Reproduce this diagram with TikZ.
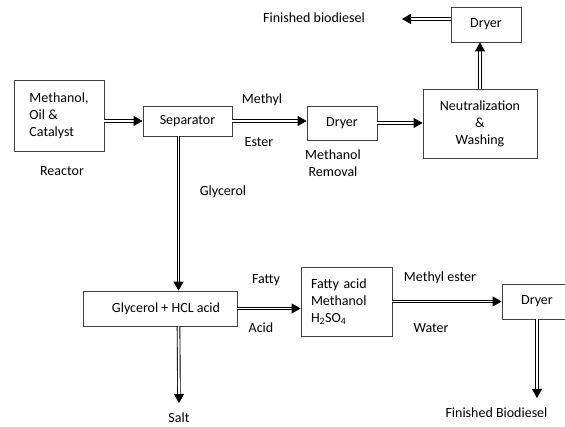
\documentclass[tikz,border=0pt]{standalone}
\usepackage{fontspec}
\setmainfont{Carlito}
\usepackage{tikz}
\usetikzlibrary{arrows.meta,positioning,calc}
\definecolor{BoxLine}{RGB}{64,64,64}
\newcommand{\diagfont}{\fontsize{14}{17}\selectfont}

\begin{document}
\begin{tikzpicture}[x=1pt,y=-1pt,font=\diagfont,
 box/.style={draw=BoxLine,line width=0.8pt,inner sep=0pt,align=center},
 flow/.style={double,double distance=1.8pt,line width=0.9pt,
 -{Triangle[length=9pt,width=10pt]}},
 lbl/.style={inner sep=0pt,align=center}]
\useasboundingbox (0,0) rectangle (565,427);
\clip (0,0) rectangle (565,427);
% process boxes
\node[box,minimum width=90,minimum height=71,align=left] (reactor) at (59,115.5) {Methanol,\\Oil \&\\Catalyst};
\node[box,minimum width=89,minimum height=30] (sep) at (187.5,121) {Separator};
\node[box,minimum width=70,minimum height=34] (dryerA) at (342,123) {Dryer};
\node[box,minimum width=114,minimum height=69] (neutral) at (480,123.5) {Neutralization\\\&\\Washing};
\node[box,minimum width=70,minimum height=35] (dryerTop) at (486,24.5) {Dryer};
\node[box,minimum width=154,minimum height=35] (glyc) at (160,308.5) {\hspace{12pt}Glycerol + HCL acid};
\node[box,minimum width=91,minimum height=69,text width=71,inner xsep=10,align=left] (fatty) at (346.5,301.5) {Fatty acid\\Methanol\\H\textsubscript{2}SO\textsubscript{4}};
\node[box,minimum width=70,minimum height=35] (dryerB) at (537,301.5) {Dryer};
% labels
\node[lbl] (reactorLbl) at (62,171) {Reactor};
\node[lbl] (methylLbl) at (262,100) {Methyl};
\node[lbl] (esterLbl) at (259,142) {Ester};
\node[lbl] (removalLbl) at (333,163) {Methanol\\Removal};
\node[lbl] (finTop) at (314,18) {Finished biodiesel};
\node[lbl] (glycLbl) at (223,192) {Glycerol};
\node[lbl] (fattyLbl) at (266,280) {Fatty};
\node[lbl] (acidLbl) at (261,328) {Acid};
\node[lbl] (meLbl) at (440,278) {Methyl ester};
\node[lbl] (waterLbl) at (431,328) {Water};
\node[lbl] (saltLbl) at (179,418) {Salt};
\node[lbl] (finBot) at (496.5,413) {Finished Biodiesel};
% free ends
\coordinate (topTip) at (402,19);
\coordinate (sepOut) at ($(sep.south west)!0.4!(sep.south east)$);
\coordinate (saltTip) at (179,403);
\coordinate (finTip) at (537,398);
% flows
\draw[flow] (reactor.east |- sep.west) -- (sep.west);
\draw[flow] (sep.east) -- (sep.east -| dryerA.west);
\draw[flow] (dryerA.east) -- (dryerA.east -| neutral.west);
\draw[flow] (neutral.north) -- (neutral.north |- dryerTop.south);
\draw[flow] (dryerTop.west |- topTip) -- (topTip);
\draw[flow] (sepOut) -- (sepOut |- glyc.north);
\draw[flow] (sepOut |- glyc.south) -- (saltTip);
\draw[flow] (glyc.east) -- (glyc.east -| fatty.west);
\draw[flow] (fatty.east |- dryerB.west) -- (dryerB.west);
\draw[flow] (dryerB.south) -- (finTip);
\end{tikzpicture}
\end{document}
